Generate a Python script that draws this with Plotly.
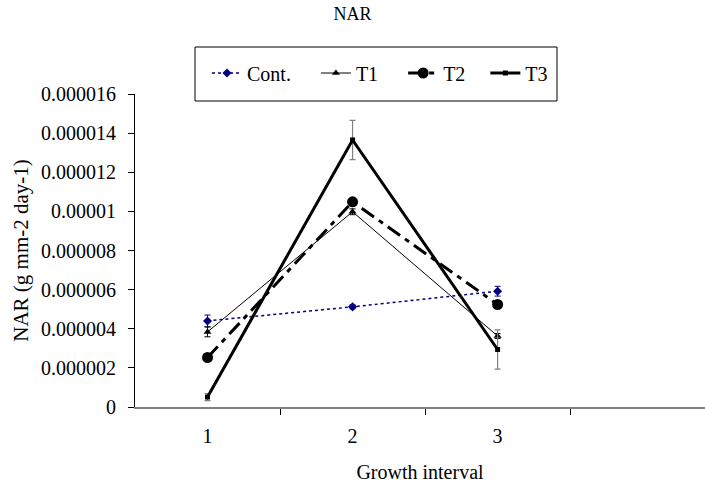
import plotly.graph_objects as go

# ---- data ----
intervals = [1, 2, 3]
x_tick_labels = ["1", "2", "3"]
cont = [4.40e-6, 5.12e-6, 5.92e-6]
t1 = [3.84e-6, 9.98e-6, 3.63e-6]
t2 = [2.53e-6, 10.49e-6, 5.24e-6]
t3 = [0.51e-6, 13.65e-6, 2.94e-6]
cont_err = [0.30e-6, 0.10e-6, 0.25e-6]
t1_err = [0.25e-6, 0.15e-6, 0.13e-6]
t2_err = [0.15e-6, 0.15e-6, 0.15e-6]
t3_err = [0.18e-6, 1.00e-6, 1.00e-6]
y_tick_vals = [0, 2e-6, 4e-6, 6e-6, 8e-6, 10e-6, 12e-6, 14e-6, 16e-6]
y_tick_text = ["0", "0.000002", "0.000004", "0.000006", "0.000008",
               "0.00001", "0.000012", "0.000014", "0.000016"]
boundary_ticks = [1.5, 2.5, 3.5]

FONT = "Liberation Serif, Times New Roman, serif"
NBSP = "\u00a0"

fig = go.Figure()

fig.add_trace(go.Scatter(
    x=intervals, y=cont, name="Cont." + NBSP * 4, mode="lines+markers",
    line=dict(color="#000080", width=1.5, dash="dot"),
    marker=dict(symbol="diamond", size=7, color="#000080"),
    error_y=dict(type="data", array=cont_err, visible=True, color="#000080",
                 thickness=1, width=3),
))
fig.add_trace(go.Scatter(
    x=intervals, y=t1, name="T1" + NBSP * 4, mode="lines+markers",
    line=dict(color="black", width=1),
    marker=dict(symbol="triangle-up", size=7, color="black"),
    error_y=dict(type="data", array=t1_err, visible=True, color="black",
                 thickness=1, width=3),
))
fig.add_trace(go.Scatter(
    x=intervals, y=t2, name="T2" + NBSP * 3, mode="lines+markers",
    line=dict(color="black", width=3, dash="15px,6px,5px,6px"),
    marker=dict(symbol="circle", size=11, color="black"),
    error_y=dict(type="data", array=t2_err, visible=True, color="black",
                 thickness=1, width=3),
))
fig.add_trace(go.Scatter(
    x=intervals, y=t3, name="T3", mode="lines+markers",
    line=dict(color="black", width=3),
    marker=dict(symbol="square", size=5, color="black"),
    error_y=dict(type="data", array=t3_err, visible=True, color="#808080",
                 thickness=1.2, width=3),
))

# legend frame
fig.add_shape(type="rect", xref="paper", yref="paper",
              x0=(195 - 135) / 570, x1=(557 - 135) / 570,
              y0=(407 - 101) / 313, y1=(407 - 47) / 313,
              line=dict(color="black", width=1), fillcolor="rgba(0,0,0,0)")

fig.update_layout(
    width=705, height=486,
    margin=dict(l=135, r=0, t=94, b=79, autoexpand=False),
    paper_bgcolor="white", plot_bgcolor="white",
    font=dict(family=FONT, size=20, color="black"),
    title=dict(text="NAR", x=0.5, xref="container", xanchor="center",
               y=1 - 14 / 486, yref="container", yanchor="middle",
               font=dict(family=FONT, size=18, color="black")),
    showlegend=True,
    legend=dict(orientation="h", xref="container", yref="container",
                x=207 / 705, xanchor="left",
                y=1 - 73 / 486, yanchor="middle",
                bgcolor="rgba(0,0,0,0)", borderwidth=0,
                font=dict(family=FONT, size=20, color="black")),
    xaxis=dict(range=[0.5, 4.43], tickmode="array", tickvals=intervals,
               ticktext=x_tick_labels, ticks="", showgrid=False, zeroline=False,
               showline=True, linecolor="#808080", linewidth=2,
               ticklabelstandoff=10, automargin=False,
               minor=dict(tickmode="array", tickvals=boundary_ticks, ticks="outside",
                          ticklen=6, tickcolor="black", tickwidth=1, showgrid=False),
               title=dict(text="Growth interval", standoff=19,
                          font=dict(family=FONT, size=20, color="black"))),
    yaxis=dict(range=[0, 1.6e-5], tickmode="array", tickvals=y_tick_vals,
               ticktext=y_tick_text, ticks="outside", ticklen=6, tickcolor="black",
               showgrid=False, zeroline=False, showline=True, linecolor="black",
               linewidth=1, ticklabelstandoff=8, automargin=False,
               title=dict(text="NAR (g mm-2 day-1)", standoff=6,
                          font=dict(family=FONT, size=21, color="black"))),
)

fig.write_html(
    "out.html",
    config={"displayModeBar": False},
    post_script="document.body.style.margin='0';document.body.style.padding='0';",
)
